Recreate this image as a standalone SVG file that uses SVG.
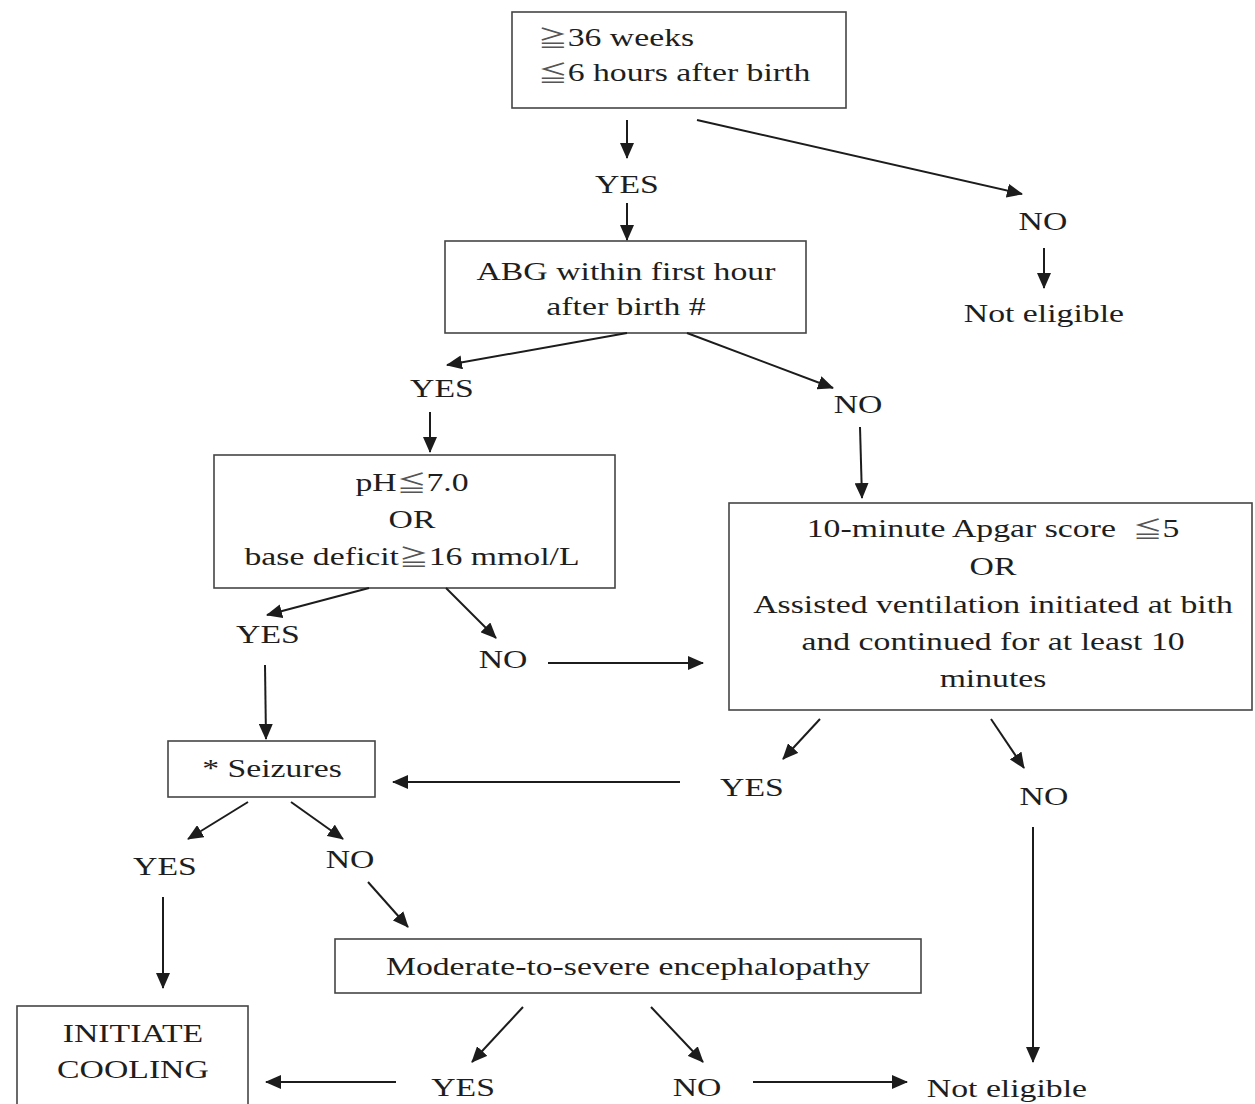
<svg xmlns="http://www.w3.org/2000/svg" width="1255" height="1104" viewBox="0 0 1255 1104">
<defs>
<marker id="ah" markerUnits="userSpaceOnUse" markerWidth="16" markerHeight="14" viewBox="0 0 16 14" refX="15" refY="7" orient="auto">
<path d="M0,0 L16,7 L0,14 z" fill="#1c1c1c"/>
</marker>
</defs>
<style>
.box{fill:#ffffff;stroke:#454545;stroke-width:1.6}
.t{font-family:"Liberation Serif","Noto Sans CJK JP","Noto Sans CJK SC",serif;font-size:25px;fill:#1e1e1e;text-anchor:middle}
.ts{text-anchor:start}
.sym{fill:#555555;font-size:22px}
.c{stroke:#1c1c1c;stroke-width:2;fill:none;marker-end:url(#ah)}
</style>
<rect width="1255" height="1104" fill="#ffffff"/>

<g id="n-start">
<rect class="box" x="512" y="12" width="334" height="96"/>
<text class="t ts" transform="scale(1.35 1)" x="398.5" y="46"><tspan class="sym">≧</tspan>36 weeks</text>
<text class="t ts" transform="scale(1.35 1)" x="398.5" y="81"><tspan class="sym">≦</tspan>6 hours after birth</text>
</g>
<g id="l-yes1"><text class="t" transform="scale(1.35 1)" x="464.4" y="193">YES</text></g>
<g id="l-no1"><text class="t" transform="scale(1.35 1)" x="772.6" y="230">NO</text></g>
<g id="n-noteligible1"><text class="t" transform="scale(1.35 1)" x="773.3" y="322">Not eligible</text></g>

<g id="n-abg">
<rect class="box" x="445" y="241" width="361" height="92"/>
<text class="t" transform="scale(1.35 1)" x="463.7" y="280">ABG within first hour</text>
<text class="t" transform="scale(1.35 1)" x="463.7" y="315">after birth #</text>
</g>
<g id="l-yes2"><text class="t" transform="scale(1.35 1)" x="327.4" y="397">YES</text></g>
<g id="l-no2"><text class="t" transform="scale(1.35 1)" x="635.6" y="413">NO</text></g>

<g id="n-ph">
<rect class="box" x="214" y="455" width="401" height="133"/>
<text class="t" transform="scale(1.35 1)" x="305.2" y="491">pH<tspan class="sym">≦</tspan>7.0</text>
<text class="t" transform="scale(1.35 1)" x="305.2" y="528">OR</text>
<text class="t" transform="scale(1.35 1)" x="305.2" y="565">base deficit<tspan class="sym">≧</tspan>16 mmol/L</text>
</g>
<g id="l-yes3"><text class="t" transform="scale(1.35 1)" x="198.5" y="643">YES</text></g>
<g id="l-no3"><text class="t" transform="scale(1.35 1)" x="372.6" y="668">NO</text></g>

<g id="n-apgar">
<rect class="box" x="729" y="503" width="523" height="207"/>
<text class="t" transform="scale(1.35 1)" x="735.6" y="537">10-minute Apgar score&#160; <tspan class="sym">≦</tspan>5</text>
<text class="t" transform="scale(1.35 1)" x="735.6" y="575">OR</text>
<text class="t" transform="scale(1.35 1)" x="735.6" y="613">Assisted ventilation initiated at bith</text>
<text class="t" transform="scale(1.35 1)" x="735.6" y="650">and continued for at least 10</text>
<text class="t" transform="scale(1.35 1)" x="735.6" y="687">minutes</text>
</g>
<g id="l-yes4"><text class="t" transform="scale(1.35 1)" x="557" y="796">YES</text></g>
<g id="l-no4"><text class="t" transform="scale(1.35 1)" x="773.3" y="805">NO</text></g>

<g id="n-seizures">
<rect class="box" x="168" y="741" width="207" height="56"/>
<text class="t" transform="scale(1.35 1)" x="201.5" y="777">* Seizures</text>
</g>
<g id="l-yes5"><text class="t" transform="scale(1.35 1)" x="122.2" y="875">YES</text></g>
<g id="l-no5"><text class="t" transform="scale(1.35 1)" x="259.3" y="868">NO</text></g>

<g id="n-enceph">
<rect class="box" x="335" y="939" width="586" height="54"/>
<text class="t" transform="scale(1.35 1)" x="465.2" y="975">Moderate-to-severe encephalopathy</text>
</g>

<g id="n-cooling">
<rect class="box" x="17" y="1006" width="231" height="110"/>
<text class="t" transform="scale(1.35 1)" x="98.5" y="1042">INITIATE</text>
<text class="t" transform="scale(1.35 1)" x="98.5" y="1078">COOLING</text>
</g>
<g id="l-yes6"><text class="t" transform="scale(1.35 1)" x="343" y="1096">YES</text></g>
<g id="l-no6"><text class="t" transform="scale(1.35 1)" x="516.3" y="1096">NO</text></g>
<g id="n-noteligible2"><text class="t" transform="scale(1.35 1)" x="745.9" y="1097">Not eligible</text></g>

<g id="connectors">
<line class="c" x1="627" y1="120" x2="627" y2="158"/>
<line class="c" x1="627" y1="203" x2="627" y2="240"/>
<line class="c" x1="697" y1="120" x2="1022" y2="194"/>
<line class="c" x1="1044" y1="248" x2="1044" y2="288"/>
<line class="c" x1="627" y1="333" x2="447" y2="365"/>
<line class="c" x1="687" y1="333" x2="833" y2="388"/>
<line class="c" x1="430" y1="412" x2="430" y2="452"/>
<line class="c" x1="860" y1="427" x2="862" y2="498"/>
<line class="c" x1="369" y1="588" x2="267" y2="615"/>
<line class="c" x1="446" y1="588" x2="496" y2="638"/>
<line class="c" x1="548" y1="663" x2="703" y2="663"/>
<line class="c" x1="265" y1="665" x2="266" y2="739"/>
<line class="c" x1="820" y1="719" x2="783" y2="759"/>
<line class="c" x1="991" y1="719" x2="1024" y2="768"/>
<line class="c" x1="680" y1="782" x2="393" y2="782"/>
<line class="c" x1="248" y1="802" x2="188" y2="839"/>
<line class="c" x1="291" y1="802" x2="343" y2="839"/>
<line class="c" x1="163" y1="897" x2="163" y2="988"/>
<line class="c" x1="368" y1="882" x2="408" y2="927"/>
<line class="c" x1="1033" y1="827" x2="1033" y2="1062"/>
<line class="c" x1="523" y1="1007" x2="472" y2="1062"/>
<line class="c" x1="651" y1="1007" x2="703" y2="1062"/>
<line class="c" x1="396" y1="1082" x2="266" y2="1082"/>
<line class="c" x1="753" y1="1082" x2="907" y2="1082"/>
</g>
</svg>
